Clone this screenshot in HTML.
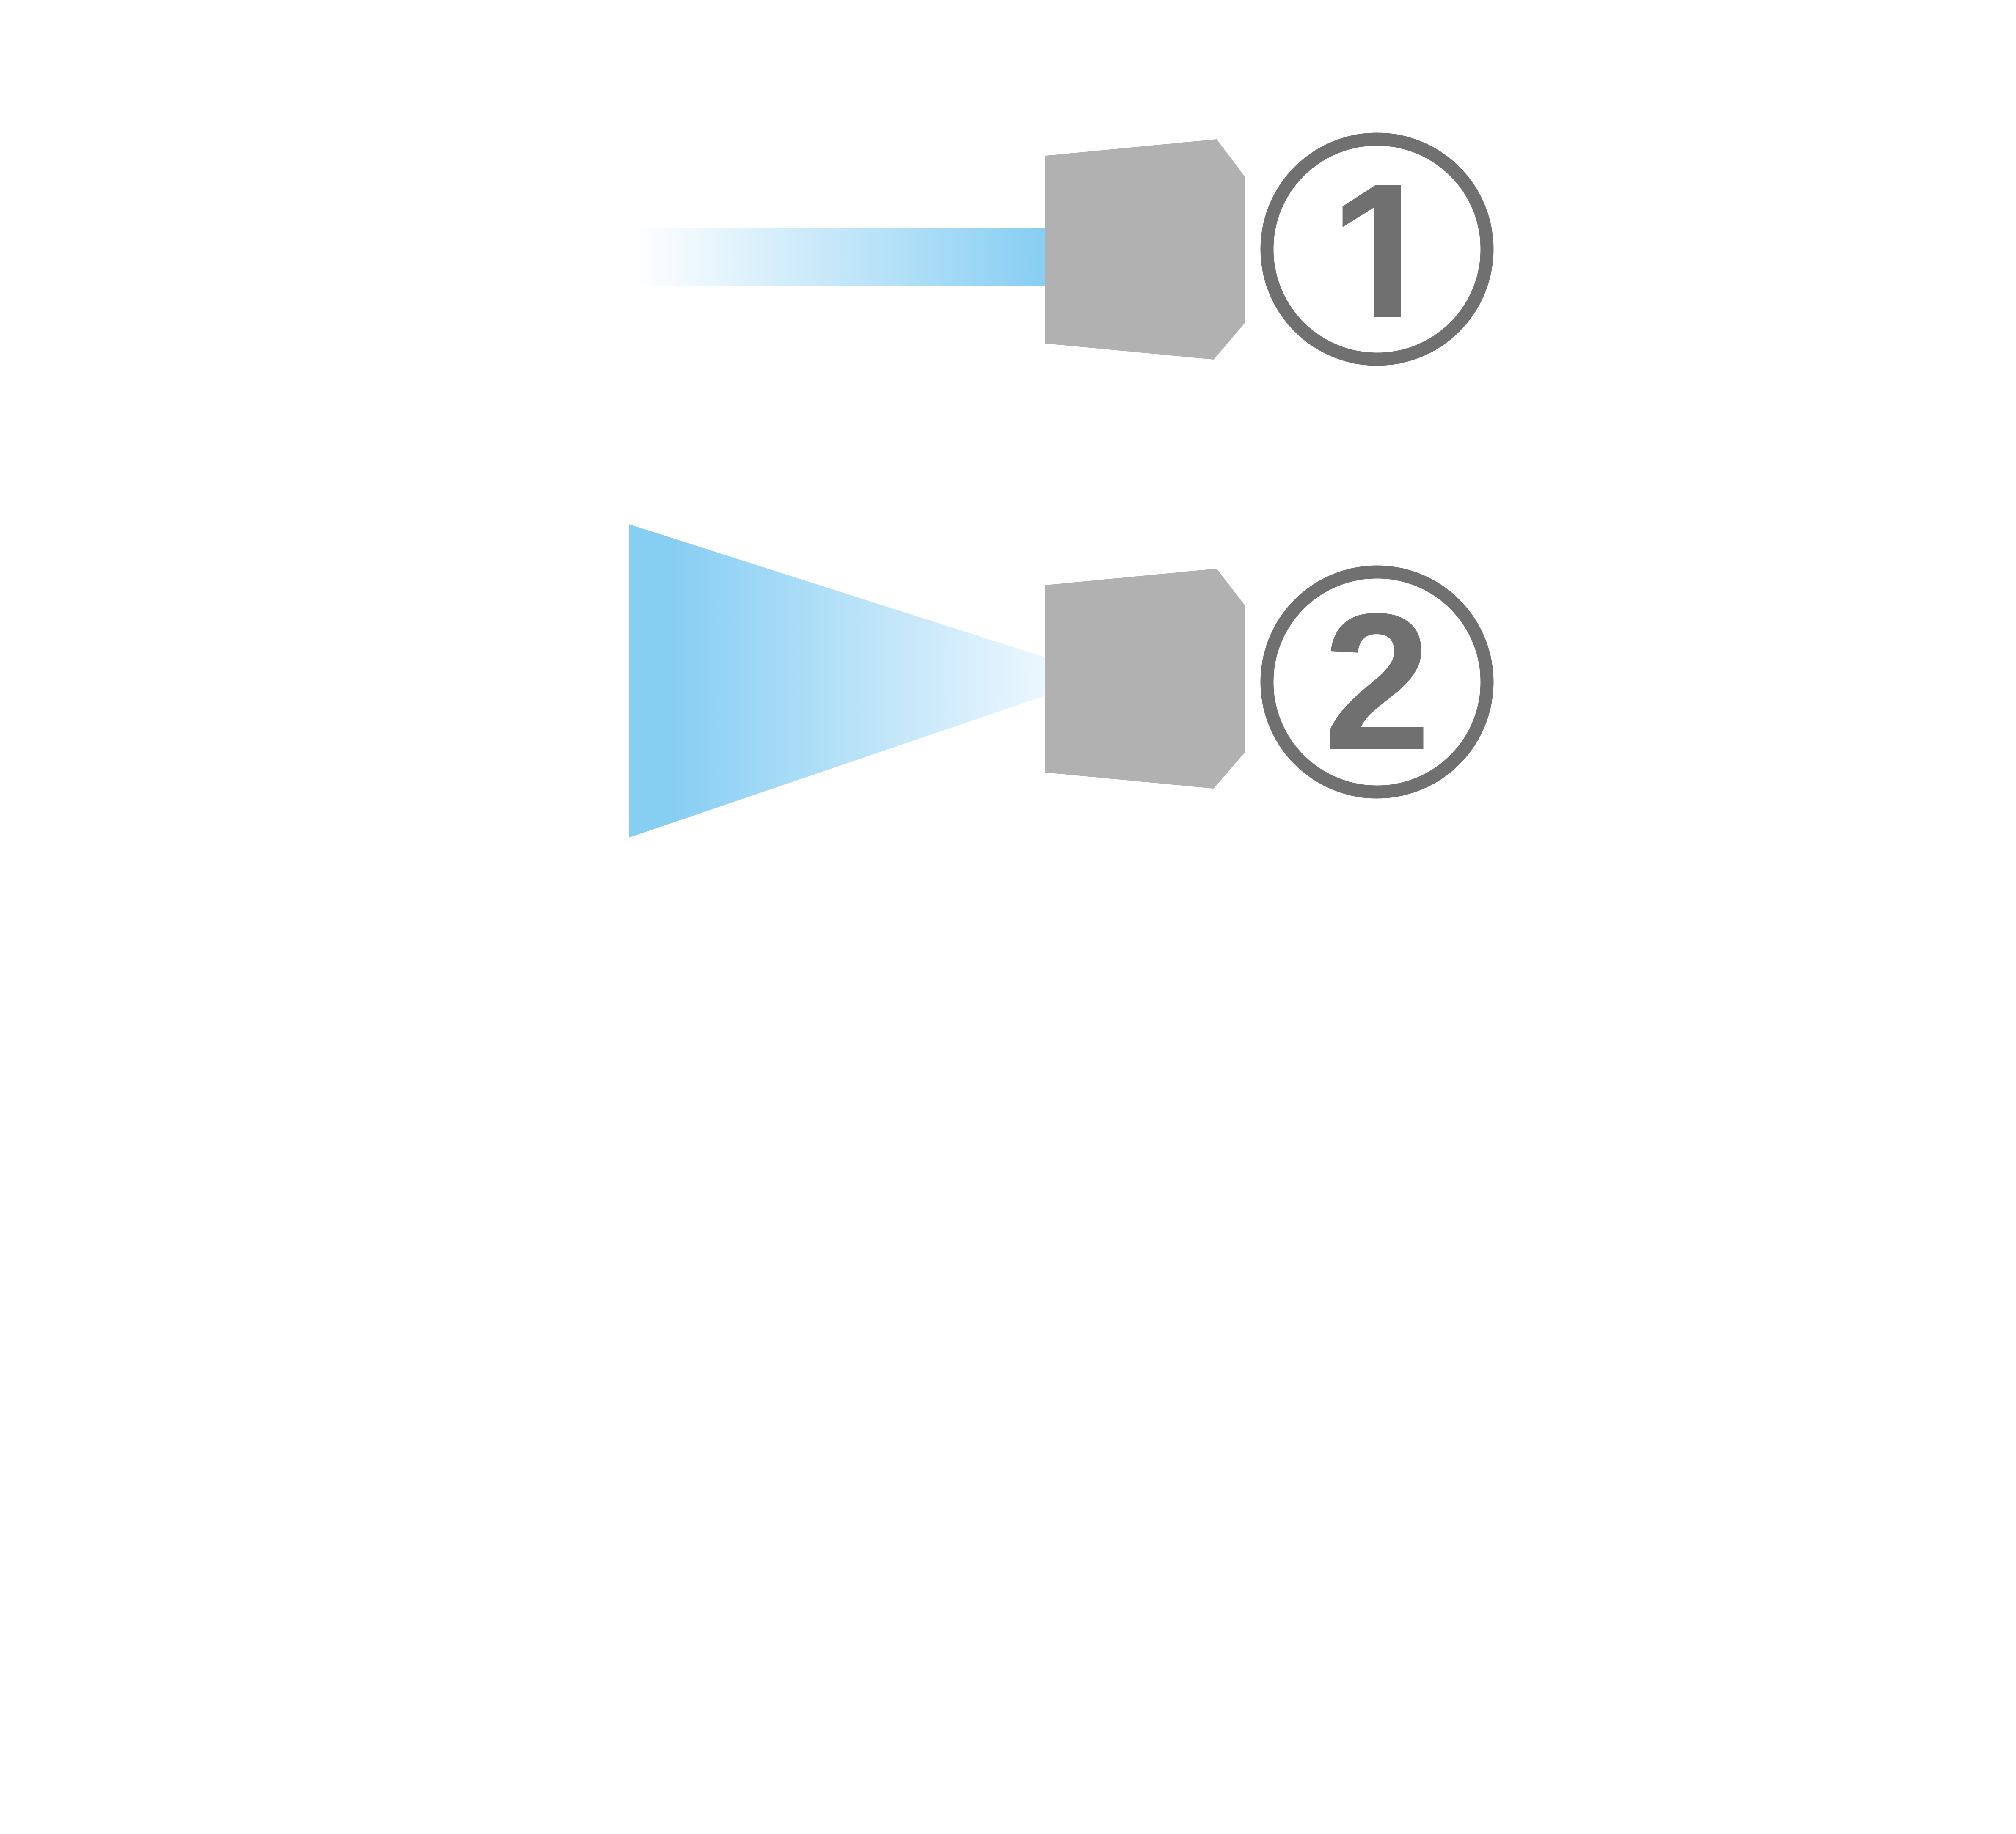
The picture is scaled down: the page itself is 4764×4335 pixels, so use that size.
<!DOCTYPE html>
<html><head><meta charset="utf-8"><style>
html,body{margin:0;padding:0;background:#fff;}
svg{display:block;}
</style></head><body>
<svg width="4764" height="4335" viewBox="0 0 4764 4335" xmlns="http://www.w3.org/2000/svg">
<defs>
<linearGradient id="g1" x1="0" x2="1" y1="0" y2="0">
<stop offset="0" stop-color="#ffffff"/>
<stop offset="1" stop-color="#87cef3"/>
</linearGradient>
<linearGradient id="g2" x1="0" x2="1" y1="0" y2="0">
<stop offset="0.1" stop-color="#87cef3"/>
<stop offset="1" stop-color="#ecf7fe"/>
</linearGradient>
<clipPath id="c1">
<rect x="3000" y="300" width="500" height="390"/>
<rect x="3248" y="680" width="62" height="90"/>
</clipPath>
</defs>
<rect x="1500" y="540" width="971" height="136" fill="url(#g1)"/>
<polygon points="2470,368 2875,329 2942,418 2942,763 2868,850 2470,812" fill="#b1b1b1"/>
<circle cx="3254" cy="589" r="260" fill="#fff" stroke="#707070" stroke-width="31"/>
<text x="3268" y="750" clip-path="url(#c1)" font-family="Liberation Sans, sans-serif" font-weight="bold" font-size="455" fill="#707070" text-anchor="middle">1</text>

<polygon points="1486,1239 2471,1554 2471,1644 1486,1980" fill="url(#g2)"/>
<polygon points="2470,1383 2875,1344 2942,1431 2942,1778 2868,1864 2470,1826" fill="#b1b1b1"/>
<circle cx="3254" cy="1612" r="260" fill="#fff" stroke="#707070" stroke-width="31"/>
<text x="3254" y="1770" font-family="Liberation Sans, sans-serif" font-weight="bold" font-size="460" fill="#707070" text-anchor="middle">2</text>
</svg>
</body></html>
